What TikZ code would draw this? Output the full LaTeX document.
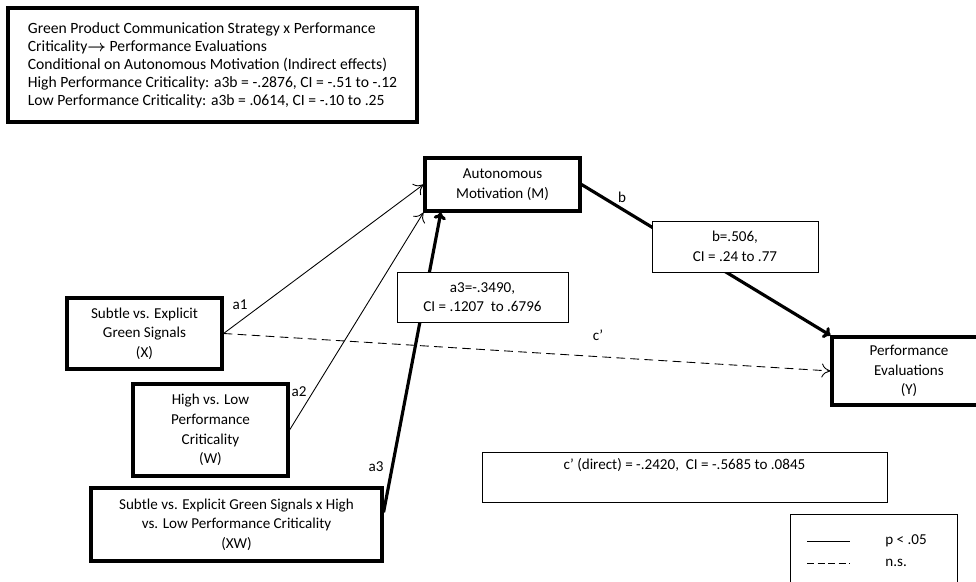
\documentclass[tikz,border=0pt]{standalone}
\usepackage{fontspec}
\setmainfont{Carlito}
\usepackage{amsmath}
\usepackage{tikz}
\usetikzlibrary{positioning}
\usetikzlibrary{calc,arrows.meta}

% boxes of the model and of the estimates
\tikzset{
	varbox/.style={draw, line width=1.8pt, align=center, inner sep=2pt,
		font=\fontsize{8.6}{11.2}\selectfont},
	estbox/.style={draw, fill=white, line width=0.5pt, align=center, inner sep=2pt,
		font=\fontsize{8.6}{11.2}\selectfont},
	pathlbl/.style={inner sep=0pt, font=\fontsize{8.6}{10}\selectfont},
	sigpath/.style={line width=0.5pt, -{To[length=5pt,width=8pt]}},
	sigthick/.style={line width=1.8pt, -{To[length=4pt,width=7pt]}},
	nspath/.style={line width=0.5pt, dash pattern=on 5pt off 3pt, -{To[length=5pt,width=8pt]}},
}

\begin{document}
\begin{tikzpicture}[x=0.02cm, y=-0.02cm]

	\useasboundingbox (0,0) rectangle (976,581);

	% Summary of the conditional indirect effects
	\node[varbox, align=left, line width=2pt, minimum width=8.18cm,
		minimum height=2.28cm, font=\fontsize{8.9}{10.2}\selectfont] (T) at (212.5,65)
		{Green Product Communication Strategy x Performance\\
		 Criticality$\boldsymbol{\rightarrow}$ Performance Evaluations\\
		 Conditional on Autonomous Motivation (Indirect effects)\\
		 High Performance Criticality: a3b = -.2876, CI = -.51 to -.12\\
		 Low Performance Criticality: a3b = .0614, CI = -.10 to .25};

	% Variables
	\node[varbox, minimum width=3.1cm, minimum height=1.06cm] (M) at (502.5,184.5)
		{Autonomous\\Motivation (M)};
	\node[varbox, minimum width=3.1cm, minimum height=1.42cm] (X) at (144.5,333.5)
		{Subtle vs. Explicit\\Green Signals\\(X)};
	\node[varbox, minimum width=3.1cm, minimum height=1.84cm] (W) at (210.5,430)
		{High vs. Low\\Performance\\Criticality\\(W)};
	\node[varbox, minimum width=5.82cm, minimum height=1.46cm] (XW) at (236.5,524.5)
		{Subtle vs. Explicit Green Signals x High\\vs. Low Performance Criticality\\(XW)};
	\node[varbox, minimum width=3.08cm, minimum height=1.36cm] (Y) at (909,371)
		{Performance\\Evaluations\\(Y)};

	% Paths
	\draw[sigpath] (X.east) -- (M.west);
	\draw[sigpath] (W.east) -- (M.south west);
	\draw[sigthick] ($(XW.north east)!0.34!(XW.south east)$)
		-- ($(M.south west)!0.11!(M.south east)$);
	\draw[sigthick] (M.east) -- (Y.north west);
	\draw[nspath] (X.east) -- (Y.west);

	\node[pathlbl] (la1) at (240,305) {a1};
	\node[pathlbl] (la2) at (299,392) {a2};
	\node[pathlbl] (la3) at (376,467) {a3};
	\node[pathlbl] (lb)  at (622,197) {b};
	\node[pathlbl] (lc)  at (598,335) {c’};

	% Estimates
	\node[estbox, minimum width=3.42cm, minimum height=1.0cm] (Ea3) at (482.5,297)
		{a3=-.3490,\\CI = .1207 \ to .6796};
	\node[estbox, minimum width=3.32cm, minimum height=1.02cm] (Eb) at (735,246.5)
		{b=.506,\\CI = .24 to .77};
	\node[estbox, minimum width=8.1cm, minimum height=1.0cm] (Ec) at (684.5,477)
		{c’ (direct) = -.2420, \ CI = -.5685 to .0845\\ \strut};

	% Legend
	\draw[line width=0.5pt] (790,600) |- (957,514) -- (957,600);
	\coordinate (s1) at (807,541);
	\coordinate (s2) at (850,541);
	\coordinate (n1) at (807,563);
	\coordinate (n2) at (850,563);
	\draw[line width=0.5pt] (s1) -- (s2);
	\draw[line width=0.5pt, dash pattern=on 4pt off 2pt] (n1) -- (n2);
	\node[pathlbl, anchor=west] (lsig) at (885,541) {p < .05};
	\node[pathlbl, anchor=west] (lns)  at (885,563) {n.s.};

\end{tikzpicture}
\end{document}
